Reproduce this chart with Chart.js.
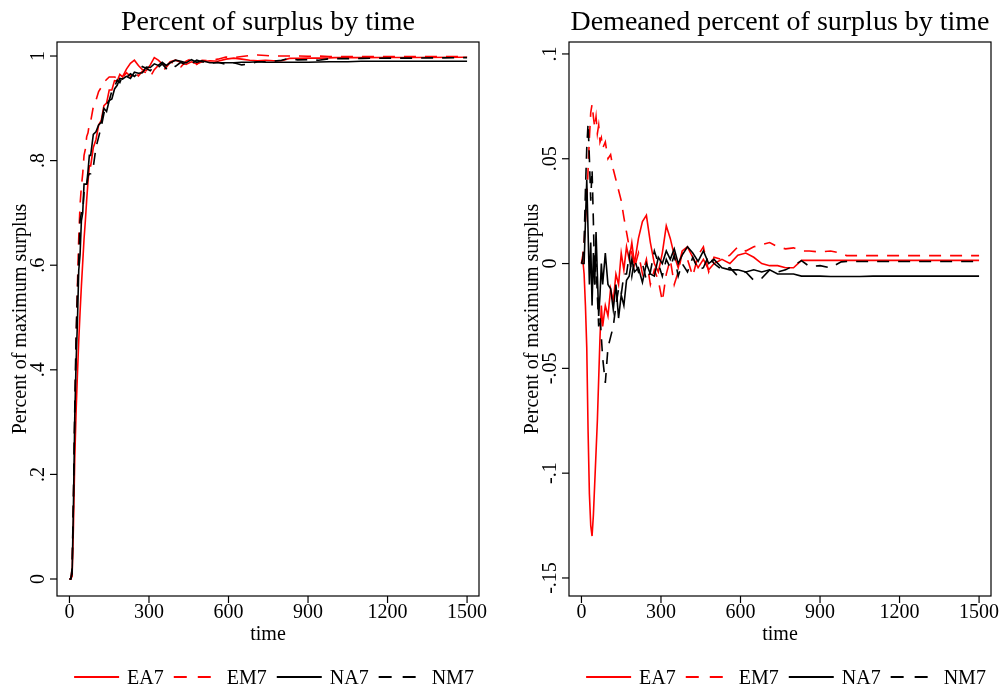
<!DOCTYPE html>
<html lang="en">
<head>
<meta charset="UTF-8">
<title>Percent of surplus by time</title>
<style>
  body { margin: 0; background: #fff; }
  .wrap { display: flex; width: 1002px; height: 688px; }
  .panel { width: 501px; height: 688px; }
  canvas { display: block; }
</style>
<script src="https://cdn.jsdelivr.net/npm/chart.js"></script>
</head>
<body>
<div class="wrap">
  <div class="panel"><canvas id="levelChart" width="501" height="688"></canvas></div>
  <div class="panel"><canvas id="demeanChart" width="501" height="688"></canvas></div>
</div>
<script>
// time grid (x values)
const time = [0,5,10,15,20,25,30,35,40,45,50,55,60,65,70,75,80,
  90,100,110,120,130,140,150,160,170,180,190,200,
  215,230,245,260,275,290,305,320,335,350,365,380,
  400,420,440,460,480,500,
  530,560,590,620,650,680,710,740,770,800,830,
  860,900,940,980,1000,1050,1100,1200,1300,1500];

// percent of maximum surplus
const levelEA7 = [0,0,0.005,0.10,0.23,0.32,0.39,0.455,0.51,0.56,0.605,0.65,0.685,0.725,0.76,0.79,0.79,
  0.825,0.84,0.868,0.877,0.905,0.91,0.935,0.935,0.953,0.952,0.965,0.96,
  0.975,0.986,0.992,0.982,0.974,0.972,0.983,0.997,0.992,0.985,0.98,0.989,
  0.992,0.988,0.984,0.989,0.985,0.989,
  0.991,0.99,0.994,0.996,0.994,0.992,0.991,0.992,0.991,0.991,0.9955,
  0.9958,0.996,0.996,0.9965,0.997,0.997,0.997,0.9972,0.9973,0.9975];
const levelEM7 = [0,0,0.02,0.15,0.30,0.445,0.56,0.652,0.716,0.75,0.775,0.81,0.822,0.846,0.853,0.87,0.875,
  0.903,0.915,0.932,0.94,0.95,0.955,0.96,0.96,0.96,0.958,0.96,0.958,
  0.968,0.961,0.971,0.962,0.971,0.968,0.96,0.974,0.982,0.971,0.978,0.988,
  0.986,0.979,0.99,0.995,0.984,0.992,
  0.991,0.994,0.998,0.997,0.999,1.001,1.002,1.001,1.0,1.0,1.0,
  1.0,0.9995,1.0,0.999,0.999,0.999,0.999,0.999,0.999,0.999];
const levelNA7 = [0,0,0.01,0.14,0.31,0.415,0.49,0.59,0.62,0.685,0.70,0.755,0.755,0.755,0.78,0.81,0.81,
  0.85,0.855,0.868,0.873,0.9,0.894,0.915,0.918,0.937,0.944,0.957,0.956,
  0.961,0.957,0.969,0.967,0.968,0.979,0.978,0.985,0.982,0.988,0.982,0.987,
  0.992,0.99,0.987,0.993,0.988,0.991,
  0.987,0.987,0.987,0.987,0.988,0.988,0.989,0.988,0.988,0.988,0.988,
  0.988,0.988,0.9885,0.989,0.989,0.989,0.99,0.99,0.99,0.99];
const levelNM7 = [0,0,0.02,0.155,0.325,0.467,0.55,0.61,0.685,0.70,0.70,0.74,0.745,0.75,0.77,0.775,0.775,
  0.788,0.825,0.845,0.865,0.89,0.908,0.915,0.933,0.94,0.954,0.949,0.962,
  0.959,0.966,0.961,0.968,0.98,0.976,0.972,0.981,0.978,0.985,0.976,0.983,
  0.98,0.988,0.983,0.985,0.992,0.989,
  0.986,0.988,0.984,0.987,0.983,0.985,0.989,0.989,0.99,0.992,0.9955,
  0.9926,0.993,0.992,0.9948,0.995,0.995,0.9955,0.996,0.996,0.997];

// demeaned percent of surplus
const demeanEA7 = [0,0.002,-0.005,-0.02,-0.04,-0.08,-0.11,-0.125,-0.13,-0.12,-0.105,-0.09,-0.075,-0.055,-0.035,-0.02,-0.03,
  -0.02,-0.025,-0.012,-0.018,-0.005,-0.01,0.005,-0.003,0.008,0.002,0.01,0.0,
  0.012,0.02,0.023,0.01,0.0,-0.004,0.005,0.018,0.012,0.004,-0.002,0.006,
  0.008,0.003,-0.002,0.002,-0.003,0.0,
  0.002,0.0,0.004,0.005,0.003,0.0,-0.001,-0.001,-0.002,-0.002,0.0015,
  0.0015,0.0015,0.0015,0.0015,0.0015,0.0015,0.0015,0.0015,0.0015,0.0015];
const demeanEM7 = [0,0.004,0.01,0.02,0.03,0.045,0.06,0.072,0.076,0.07,0.065,0.07,0.062,0.066,0.058,0.06,0.055,
  0.058,0.05,0.052,0.045,0.04,0.035,0.03,0.022,0.015,0.008,0.005,-0.002,
  0.005,-0.005,0.002,-0.01,-0.003,-0.008,-0.018,-0.005,0.002,-0.01,-0.004,0.005,
  0.002,-0.006,0.004,0.008,-0.004,0.003,
  0.002,0.004,0.008,0.006,0.008,0.009,0.01,0.008,0.007,0.0075,0.006,
  0.006,0.0055,0.006,0.005,0.0038,0.0038,0.0038,0.0038,0.0038,0.0038];
const demeanNA7 = [0,0,0.0,0.02,0.04,0.015,-0.01,0.01,-0.02,0.005,-0.01,0.015,-0.005,-0.025,-0.015,0.0,-0.01,
  0.005,-0.01,-0.012,-0.022,-0.01,-0.026,-0.015,-0.02,-0.008,-0.006,0.002,-0.004,
  -0.002,-0.009,0.0,-0.005,-0.006,0.003,0.0,0.006,0.002,0.007,0.0,0.004,
  0.008,0.005,0.001,0.006,0.0,0.002,
  -0.002,-0.003,-0.003,-0.004,-0.003,-0.004,-0.003,-0.005,-0.005,-0.005,-0.006,
  -0.006,-0.006,-0.0062,-0.0062,-0.0062,-0.0062,-0.006,-0.006,-0.006,-0.006];
const demeanNM7 = [0,0.002,0.01,0.035,0.055,0.067,0.05,0.03,0.045,0.02,-0.01,0.0,-0.015,-0.03,-0.025,-0.035,-0.045,
  -0.057,-0.04,-0.035,-0.03,-0.02,-0.012,-0.015,-0.005,-0.005,0.004,-0.006,0.002,
  -0.004,0.0,-0.008,-0.004,0.006,0.0,-0.006,0.002,-0.002,0.004,-0.006,0.0,
  -0.004,0.003,-0.003,-0.002,0.004,0.0,
  -0.003,-0.002,-0.006,-0.004,-0.008,-0.007,-0.003,-0.004,-0.003,-0.001,0.0014,
  -0.0014,-0.001,-0.002,0.0008,0.001,0.001,0.001,0.001,0.001,0.001];

const seriesNames = ['EA7', 'EM7', 'NA7', 'NM7'];
const xTicks = [0, 300, 600, 900, 1200, 1500];
const levelTicks = [0, 0.2, 0.4, 0.6, 0.8, 1];
const levelTickLabels = ['0', '.2', '.4', '.6', '.8', '1'];
const demeanTicks = [-0.15, -0.1, -0.05, 0, 0.05, 0.1];
const demeanTickLabels = ['-.15', '-.1', '-.05', '0', '.05', '.1'];

const lineColors = ['#ff0000', '#ff0000', '#000000', '#000000'];
const lineDashes = [[], [12, 9], [], [12, 9]];
const keyDashes = [[], [13, 11], [], [13, 11]];
const serif = '"Liberation Serif", "Times New Roman", serif';

// draws the Stata-style frame, ticks, titles and legend
function stataFrame(cfg) {
  return {
    id: 'stataFrame',
    afterDraw(chart) {
      const ctx = chart.ctx;
      const a = chart.chartArea;
      const x = chart.scales.x, y = chart.scales.y;
      const midX = (a.left + a.right) / 2;
      ctx.save();
      ctx.strokeStyle = '#000';
      ctx.fillStyle = '#000';
      ctx.lineWidth = 1.2;
      ctx.strokeRect(a.left, a.top, a.right - a.left, a.bottom - a.top);

      ctx.font = '20px ' + serif;
      ctx.textAlign = 'center';
      ctx.textBaseline = 'alphabetic';
      xTicks.forEach(v => {
        const px = x.getPixelForValue(v);
        ctx.beginPath(); ctx.moveTo(px, a.bottom); ctx.lineTo(px, a.bottom + 7); ctx.stroke();
        ctx.fillText(String(v), px, 618);
      });
      cfg.yTicks.forEach((v, i) => {
        const py = y.getPixelForValue(v);
        ctx.beginPath(); ctx.moveTo(a.left - 7, py); ctx.lineTo(a.left, py); ctx.stroke();
        ctx.save();
        ctx.translate(a.left - 13, py);
        ctx.rotate(-Math.PI / 2);
        ctx.fillText(cfg.yLabels[i], 0, 0);
        ctx.restore();
      });
      ctx.fillText('time', midX, 640);
      ctx.save();
      ctx.translate(a.left - 31, (a.top + a.bottom) / 2);
      ctx.rotate(-Math.PI / 2);
      ctx.fillText('Percent of maximum surplus', 0, 0);
      ctx.restore();

      ctx.font = '28px ' + serif;
      ctx.fillText(cfg.title, midX, 30);

      // legend
      ctx.font = '20px ' + serif;
      const keyW = 45, gapKey = 8, gapItem = 10;
      const widths = seriesNames.map(n => ctx.measureText(n).width);
      const total = widths.reduce((s, w) => s + keyW + gapKey + w, 0) + gapItem * (seriesNames.length - 1);
      let lx = midX + 6 - total / 2;
      const ly = 677;
      ctx.textAlign = 'left';
      seriesNames.forEach((n, i) => {
        ctx.save();
        ctx.strokeStyle = lineColors[i];
        ctx.lineWidth = 2;
        ctx.setLineDash(keyDashes[i]);
        ctx.beginPath(); ctx.moveTo(lx, ly); ctx.lineTo(lx + keyW, ly); ctx.stroke();
        ctx.restore();
        ctx.fillText(n, lx + keyW + gapKey, 684);
        lx += keyW + gapKey + widths[i] + gapItem;
      });
      ctx.restore();
    }
  };
}

function buildChart(id, series, yMin, yMax, cfg, pad) {
  return new Chart(document.getElementById(id), {
    type: 'line',
    data: {
      datasets: series.map((vals, i) => ({
        label: seriesNames[i],
        data: time.map((t, k) => ({ x: t, y: vals[k] })),
        borderColor: lineColors[i],
        borderDash: lineDashes[i],
        borderWidth: 1.6,
        pointRadius: 0,
        tension: 0,
        fill: false,
        order: series.length - i
      }))
    },
    options: {
      responsive: false,
      animation: false,
      devicePixelRatio: 1,
      layout: { padding: pad },
      plugins: { legend: { display: false }, tooltip: { enabled: false }, title: { display: false } },
      scales: {
        x: { type: 'linear', display: false, min: -47, max: 1545 },
        y: { type: 'linear', display: false, min: yMin, max: yMax }
      }
    },
    plugins: [stataFrame(cfg)]
  });
}

buildChart('levelChart', [levelEA7, levelEM7, levelNA7, levelNM7], -0.0325, 1.0268,
  { yTicks: levelTicks, yLabels: levelTickLabels, title: 'Percent of surplus by time' },
  { left: 57, right: 22, top: 42, bottom: 92 });

buildChart('demeanChart', [demeanEA7, demeanEM7, demeanNA7, demeanNM7], -0.1586, 0.1057,
  { yTicks: demeanTicks, yLabels: demeanTickLabels, title: 'Demeaned percent of surplus by time' },
  { left: 68, right: 11, top: 42, bottom: 92 });
</script>
</body>
</html>
